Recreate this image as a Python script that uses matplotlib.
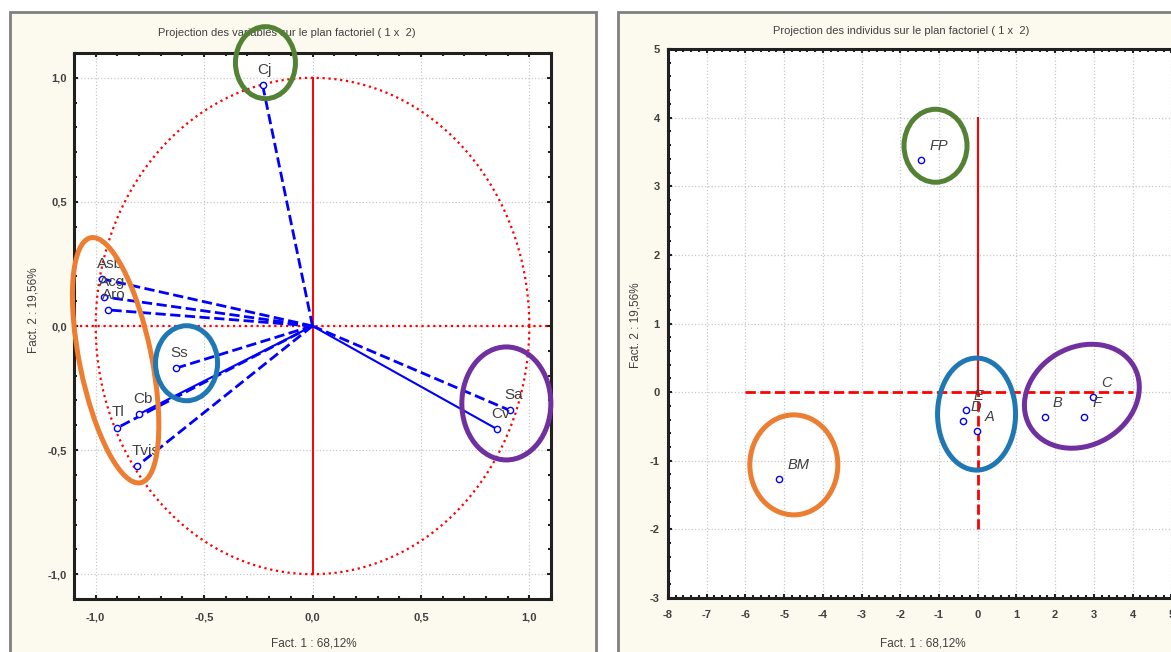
import numpy as np
import matplotlib.pyplot as plt
import matplotlib.transforms as mtransforms
from matplotlib.patches import Ellipse, Rectangle
from matplotlib.ticker import MultipleLocator, FuncFormatter

plt.rcParams['font.family'] = ['Liberation Sans', 'DejaVu Sans']

# --- data: projection des variables (cercle des corrélations) ---
var_names = ['Cj', 'Asb', 'Acg', 'Aro', 'Ss', 'Cb', 'Tl', 'Tvis', 'Sa', 'Cv']
var_f1 = [-0.23, -0.97, -0.96, -0.945, -0.63, -0.80, -0.90, -0.81, 0.91, 0.85]
var_f2 = [0.97, 0.19, 0.117, 0.065, -0.17, -0.355, -0.41, -0.565, -0.34, -0.415]

# --- data: projection des individus ---
ind_names = ['FP', 'BM', 'A', 'B', 'C', 'D', 'E', 'F']
ind_f1 = [-1.47, -5.14, -0.03, 1.73, 2.97, -0.39, -0.31, 2.74]
ind_f2 = [3.38, -1.27, -0.57, -0.36, -0.07, -0.42, -0.26, -0.36]

W, H = 1171, 652
fig = plt.figure(figsize=(W / 100, H / 100), dpi=100)
fig.patch.set_facecolor('white')

cream = '#fcf9ee'
txt = '#404040'
fig.patches.append(Rectangle((10 / W, -0.1), 586 / W, (H - 12) / H + 0.1,
                             transform=fig.transFigure, fc=cream, ec='#808080',
                             lw=2, zorder=-5))
fig.patches.append(Rectangle((618 / W, -0.1), 0.6, (H - 12) / H + 0.1,
                             transform=fig.transFigure, fc=cream, ec='#808080',
                             lw=2, zorder=-5))

ax1 = fig.add_axes([74 / W, 1 - 599 / H, (551 - 74) / W, (599 - 53) / H])
ax2 = fig.add_axes([668 / W, 1 - 598 / H, (1210 - 668) / W, (598 - 49) / H])


def style_axes(ax):
    ax.set_facecolor('white')
    for sp in ax.spines.values():
        sp.set_linewidth(2.2)
        sp.set_color('#202020')
    ax.tick_params(which='both', direction='in', top=True, right=True,
                   width=1.5, colors='#202020', labelcolor=txt)
    ax.tick_params(which='major', length=3)
    ax.tick_params(which='minor', length=2)
    ax.grid(True, which='major', color='#c8c8c8', ls=':', lw=0.9)
    ax.set_axisbelow(True)
    for lab in ax.get_xticklabels() + ax.get_yticklabels():
        lab.set_fontweight('bold')


def ring(ax, cx, cy, w_px, h_px, color, angle=0):
    # ellipse sized in pixels, centred on a data point
    trans = fig.dpi_scale_trans + mtransforms.ScaledTranslation(cx, cy, ax.transData)
    ax.add_patch(Ellipse((0, 0), w_px / fig.dpi, h_px / fig.dpi, angle=angle,
                         transform=trans, fill=False, ec=color, lw=3.6,
                         clip_on=False, zorder=6))


green, orange, blue_r, purple = '#548235', '#ed7d31', '#1f78b4', '#7030a0'

# ---------------- left: variables ----------------
ax1.set_xlim(-1.1, 1.1)
ax1.set_ylim(-1.1, 1.1)
ax1.xaxis.set_major_locator(MultipleLocator(0.5))
ax1.yaxis.set_major_locator(MultipleLocator(0.5))
ax1.xaxis.set_minor_locator(MultipleLocator(0.1))
ax1.yaxis.set_minor_locator(MultipleLocator(0.1))
comma = FuncFormatter(lambda v, p: f"{v:.1f}".replace('.', ','))
ax1.xaxis.set_major_formatter(comma)
ax1.yaxis.set_major_formatter(comma)
ax1.tick_params(axis='x', labelsize=8, pad=10)
ax1.tick_params(axis='y', labelsize=8, pad=5)
style_axes(ax1)

t = np.linspace(0, 2 * np.pi, 500)
ax1.plot(np.cos(t), np.sin(t), color='red', ls=':', lw=1.6, zorder=2)
ax1.axhline(0, color='red', ls=':', lw=1.6, zorder=2)
ax1.plot([0, 0], [-1, 1], color='red', lw=1.4, zorder=2)

solid_vars = {'Cb', 'Cv'}
for name, x, y in zip(var_names, var_f1, var_f2):
    if name in solid_vars:
        ax1.plot([0, x], [0, y], color='blue', ls='-', lw=1.5, zorder=3)
    else:
        ax1.plot([0, x], [0, y], color='blue', ls='--', lw=2, zorder=3)
    ax1.plot(x, y, 'o', ms=4.5, mfc='white', mec='blue', mew=1, zorder=4)
    ax1.annotate(name, (x, y), xytext=(-4, 6), textcoords='offset points',
                 ha='left', va='bottom', fontsize=11, color=txt, zorder=5)

ring(ax1, -0.217, 1.061, 60, 72, green)
ring(ax1, -0.908, -0.138, 72, 250, orange, angle=11.5)
ring(ax1, -0.581, -0.150, 62, 75, blue_r)
ring(ax1, 0.894, -0.312, 89, 113, purple)

# ---------------- right: individus ----------------
ax2.set_xlim(-8, 6)
ax2.set_ylim(-3, 5)
ax2.xaxis.set_major_locator(MultipleLocator(1))
ax2.yaxis.set_major_locator(MultipleLocator(1))
ax2.xaxis.set_minor_locator(MultipleLocator(0.2))
ax2.yaxis.set_minor_locator(MultipleLocator(0.2))
ax2.xaxis.set_major_formatter(FuncFormatter(lambda v, p: f"{v:.0f}"))
ax2.yaxis.set_major_formatter(FuncFormatter(lambda v, p: f"{v:.0f}"))
ax2.tick_params(axis='x', labelsize=8, pad=9)
ax2.tick_params(axis='y', labelsize=8, pad=6)
style_axes(ax2)

ax2.plot([-6, 4], [0, 0], color='red', ls='--', lw=2, zorder=2)
ax2.plot([0, 0], [0, 4], color='red', ls='-', lw=1.5, zorder=2)
ax2.plot([0, 0], [-2, 0], color='red', ls='--', lw=2, zorder=2)

for name, x, y in zip(ind_names, ind_f1, ind_f2):
    ax2.plot(x, y, 'o', ms=4.5, mfc='white', mec='blue', mew=1, zorder=4)
    ax2.annotate(name, (x, y), xytext=(6, 5), textcoords='offset points',
                 ha='left', va='bottom', fontsize=10.5, style='italic',
                 color=txt, zorder=5)

ring(ax2, -1.09, 3.59, 63, 73, green)
ring(ax2, -4.75, -1.06, 88, 100, orange)
ring(ax2, -0.03, -0.32, 78, 112, blue_r)
ring(ax2, 2.69, -0.06, 120, 98, purple, angle=30)

# ---------------- titles and axis labels ----------------
# titles sit under the axes so the green ring covers them, as in the original
fig.text(287 / W, 1 - 33 / H, 'Projection des variables sur le plan factoriel ( 1 x  2)',
         ha='center', va='center', fontsize=8, color=txt, zorder=-1)
fig.text(901 / W, 1 - 31 / H, 'Projection des individus sur le plan factoriel ( 1 x  2)',
         ha='center', va='center', fontsize=8, color=txt, zorder=-1)
fig.text(314 / W, 1 - 643 / H, 'Fact. 1 : 68,12%', ha='center', va='center',
         fontsize=8.5, color=txt)
fig.text(923 / W, 1 - 643 / H, 'Fact. 1 : 68,12%', ha='center', va='center',
         fontsize=8.5, color=txt)
fig.text(33 / W, 1 - 310 / H, 'Fact. 2 : 19,56%', ha='center', va='center',
         rotation=90, fontsize=8.5, color=txt)
fig.text(636 / W, 1 - 325 / H, 'Fact. 2 : 19,56%', ha='center', va='center',
         rotation=90, fontsize=8.5, color=txt)

fig.savefig('out.png', dpi=100)
